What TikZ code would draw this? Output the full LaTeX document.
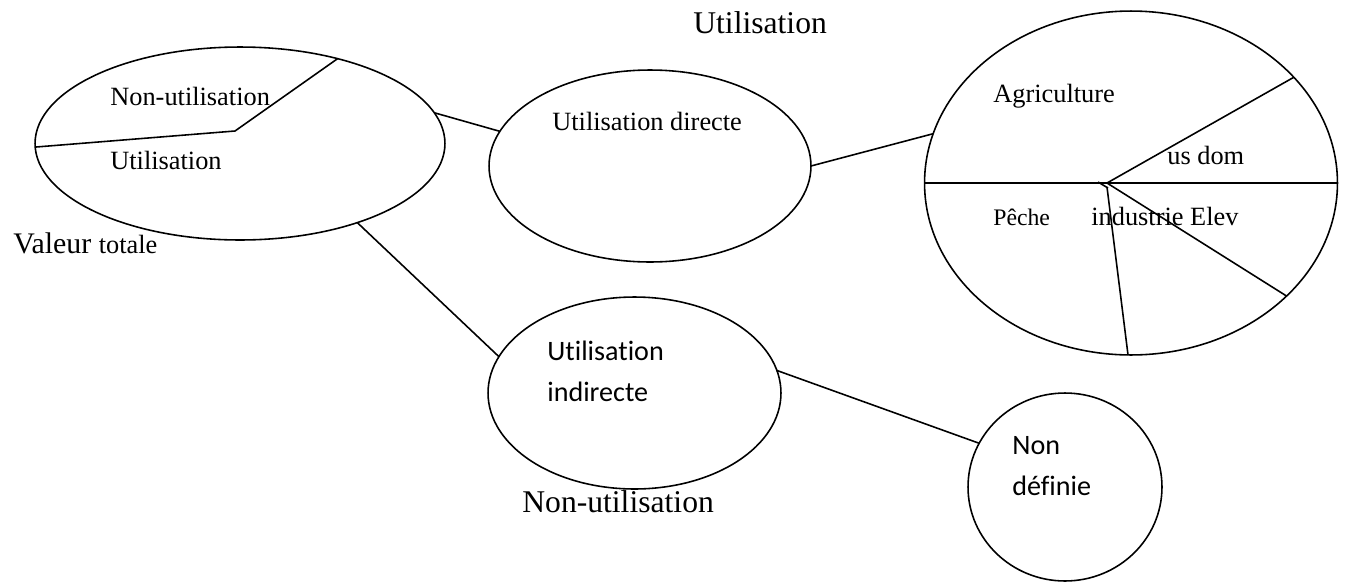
\documentclass[tikz,border=0pt]{standalone}
\usepackage{fontspec}
\setmainfont{Liberation Serif}
\newfontfamily\calib[Ligatures=NoCommon]{Carlito}
\usetikzlibrary{shapes.geometric,calc}

\begin{document}
\begin{tikzpicture}[
  x=0.02cm, y=-0.02cm,
  bubble/.style={draw, ellipse, line width=0.9pt, inner sep=0pt, outer sep=0pt},
  tag/.style={anchor=base west, inner sep=0pt, font=\fontsize{15}{18}\selectfont},
  bigtag/.style={anchor=base west, inner sep=0pt, font=\fontsize{18}{22}\selectfont},
  sanstag/.style={anchor=north west, inner sep=0pt, align=left, font=\calib\fontsize{16}{23.2}\selectfont},
  edge/.style={line width=0.9pt}
]
\useasboundingbox (0,0) rectangle (1346,582);

% the five bubbles
\node[bubble, minimum width=8.2cm, minimum height=3.86cm] (total) at (240,143.5) {};
\node[bubble, minimum width=6.44cm, minimum height=3.84cm] (direct) at (650,166) {};
\node[bubble, minimum width=5.86cm, minimum height=3.84cm] (indirect) at (634.5,393) {};
\node[bubble, minimum width=8.26cm, minimum height=6.88cm] (pie) at (1131,183) {};
\node[bubble, minimum width=3.88cm, minimum height=3.76cm] (undef) at (1065,487) {};

% links
\draw[edge] (total.9) -- (direct.167);
\draw[edge] (total.-34) -- (indirect.165);
\draw[edge] (direct.0) -- (pie.166);
\draw[edge] (indirect.9) -- (undef.153);

% splits inside the total value
\coordinate (split) at (235,131);
\draw[edge] (total.181) -- (split) -- (total.41);

% splits inside the uses
\coordinate (hub) at (1107,183);
\draw[edge] (pie.west) -- (pie.east);
\draw[edge] (hub) -- (pie.33);
\draw[edge] (hub) -- (pie.-36);
\draw[edge] (1107,187) -- (pie.-91);
\draw[edge] (1098,182) -- (1108,188);

% texts
\node[bigtag] (use) at (693,33) {Utilisation};
\node[tag] (nonuse) at (110,105) {Non-utilisation};
\node[tag] (usepart) at (110,169) {Utilisation};
\node[anchor=base west, inner sep=0pt] (value) at (13,253) {\fontsize{17}{20}\selectfont Valeur \fontsize{15}{18}\selectfont totale};
\node[tag] (directlbl) at (552,130) {Utilisation directe};
\node[tag] (agri) at (993,102) {Agriculture};
\node[tag] (dom) at (1167,164) {us dom};
\node[anchor=base west, inner sep=0pt, font=\fontsize{13.5}{16}\selectfont] (fish) at (993,225) {Pêche};
\node[tag] (indus) at (1091,225) {industrie Elev};
\node[sanstag] (indirectlbl) at (547,341) {Utilisation\\indirecte};
\node[bigtag] (nonuse2) at (522,512) {Non-utilisation};
\node[sanstag] (undeflbl) at (1012,436) {Non\\définie};
\end{tikzpicture}
\end{document}
